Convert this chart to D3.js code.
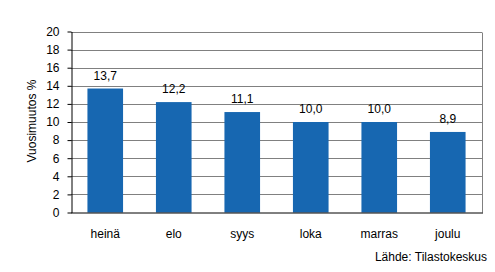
<!DOCTYPE html>
<html>
<head>
<meta charset="utf-8">
<script src="https://cdn.jsdelivr.net/npm/d3@7"></script>
<style>
  html, body { margin: 0; padding: 0; background: #fff; }
  svg { display: block; font-family: Arial, "Liberation Sans", sans-serif; }
</style>
</head>
<body>
<svg id="chart" width="495" height="272"></svg>
<script>
const categories = ["heinä", "elo", "syys", "loka", "marras", "joulu"];
const values = [13.7, 12.2, 11.1, 10.0, 10.0, 8.9];
const yTicks = [0, 2, 4, 6, 8, 10, 12, 14, 16, 18, 20];
const yTitle = "Vuosimuutos %";
const sourceText = "Lähde: Tilastokeskus";

const svg = d3.select("#chart");
const mLeft = 71, mRight = 482, mTop = 31.5, mBottom = 212.5;

const x = d3.scaleBand().domain(categories).range([mLeft, mRight]).paddingInner(0.48).paddingOuter(0.24);
const y = d3.scaleLinear().domain([0, 20]).range([mBottom, mTop]);
const fmt = v => v.toFixed(1).replace(".", ",");

// gridlines
svg.append("g").selectAll("line").data(yTicks.filter(d => d > 0)).join("line")
  .attr("x1", mLeft).attr("x2", mRight)
  .attr("y1", d => Math.round(y(d)) + 0.5).attr("y2", d => Math.round(y(d)) + 0.5)
  .attr("stroke", "#808080").attr("stroke-width", 1);

// right border
svg.append("line")
  .attr("x1", mRight + 0.5).attr("x2", mRight + 0.5)
  .attr("y1", Math.round(y(20)) + 0.5).attr("y2", mBottom)
  .attr("stroke", "#808080");

// bars
svg.append("g").selectAll("rect").data(values).join("rect")
  .attr("x", (d, i) => x(categories[i]))
  .attr("width", x.bandwidth())
  .attr("y", d => y(d))
  .attr("height", d => y(0) - y(d))
  .attr("fill", "#1767b1");

// value labels
svg.append("g").selectAll("text").data(values).join("text")
  .attr("x", (d, i) => x(categories[i]) + x.bandwidth() / 2)
  .attr("y", d => y(d) - 9)
  .attr("text-anchor", "middle")
  .attr("font-size", 12)
  .attr("fill", "#000")
  .text(d => fmt(d));

// y axis
const yAxis = d3.axisLeft(y).tickValues(yTicks).tickSize(4).tickPadding(8).tickSizeOuter(0);
const gy = svg.append("g").attr("transform", `translate(${mLeft + 0.5},0)`).call(yAxis);
gy.select(".domain").attr("stroke", "#000");
gy.selectAll(".tick line").attr("stroke", "#000");
gy.selectAll(".tick text").attr("font-size", 12).attr("fill", "#000");
gy.attr("font-family", null);

// x axis
const xAxis = d3.axisBottom(x).tickSize(0).tickPadding(16).tickSizeOuter(0);
const gx = svg.append("g").attr("transform", `translate(0,${mBottom + 0.5})`).call(xAxis);
gx.select(".domain").attr("stroke", "#000").attr("d", `M${mLeft},0H${mRight + 1}`);
gx.selectAll(".tick text").attr("font-size", 12).attr("fill", "#000");
gx.attr("font-family", null);

// y title
svg.append("text")
  .attr("transform", `translate(36,121) rotate(-90)`)
  .attr("text-anchor", "middle")
  .attr("font-size", 12)
  .attr("fill", "#000")
  .text(yTitle);

// source
svg.append("text")
  .attr("x", 487).attr("y", 260.5)
  .attr("text-anchor", "end")
  .attr("font-size", 12)
  .attr("fill", "#000")
  .text(sourceText);
</script>
</body>
</html>
